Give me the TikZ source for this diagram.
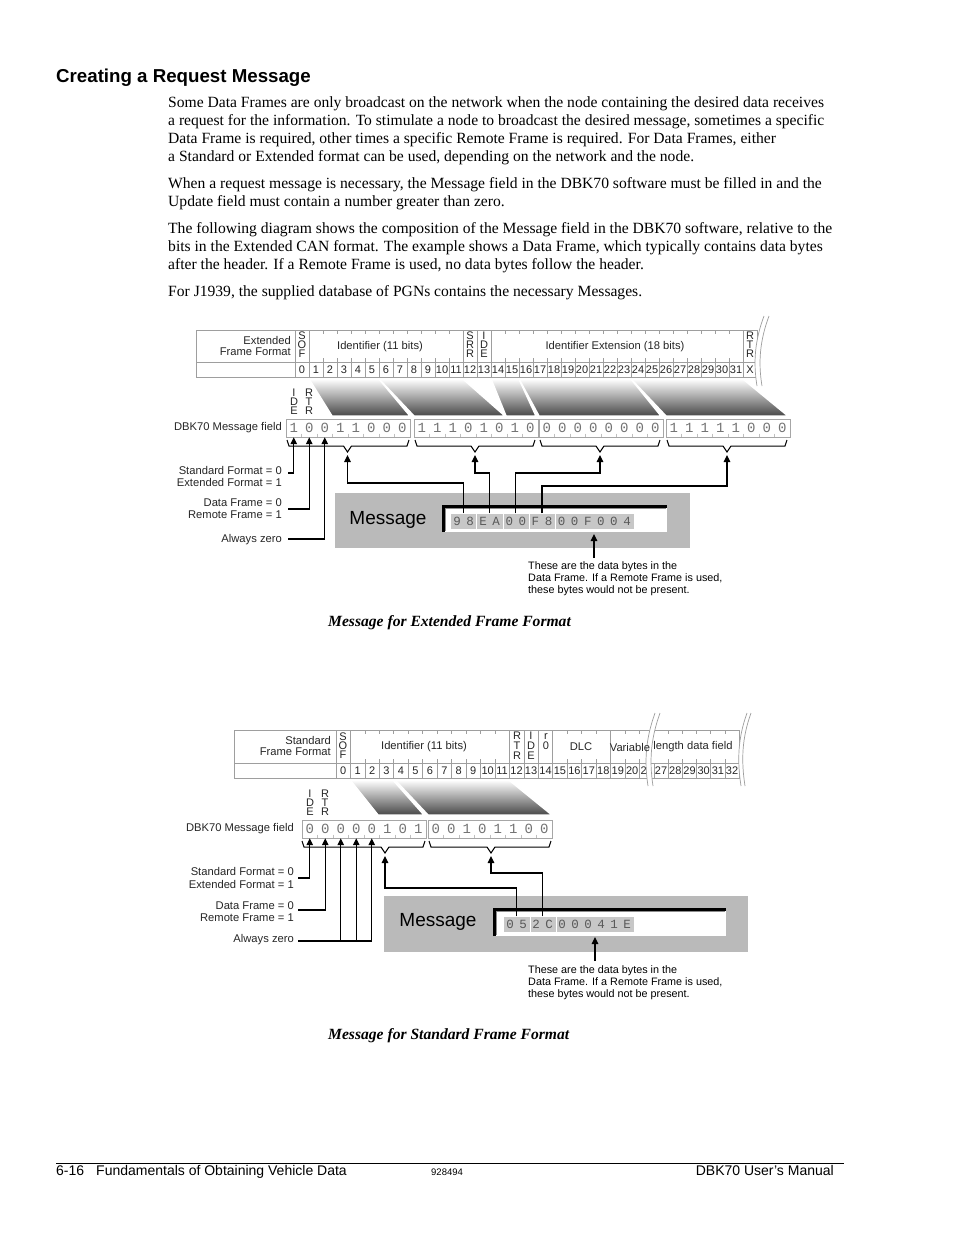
\documentclass[tikz,border=0pt]{standalone}
\usepackage{fontspec}
\setmainfont{Liberation Serif}
\setsansfont{Liberation Sans}
\setmonofont{Liberation Mono}
\usetikzlibrary{arrows.meta,calc}
\newcommand\fieldgrp[4]{%
  \draw[fbox] (#2,#3) rectangle ++(124,18);
  \foreach \d [count=\i] in {#4} {\node[dig] (#1-\i) at ({#2+7.75+15.5*(\i-1)},{#3+9}) {\d};}
  \foreach \i in {1,...,7} {\draw[fbox,draw=black!25] ({#2+15.5*\i},{#3+14.5}) -- ({#2+15.5*\i},{#3+18});}
}
\newcommand\mybrace[4]{\draw[brc] (#1,#4) -- ({#1+2},{#4+6}) -- ({#3-4},{#4+6}) -- (#3,{#4+12}) -- ({#3+4},{#4+6}) -- ({#2-2},{#4+6}) -- (#2,#4);}
\begin{document}
\begin{tikzpicture}[x=1pt,y=-1pt,
  body/.style={anchor=base west,inner sep=0,font=\fontsize{15.6}{18}\selectfont},
  capt/.style={anchor=base west,inner sep=0,font=\bfseries\itshape\fontsize{15.6}{18}\selectfont},
  lbl/.style={inner sep=0,font=\sffamily\fontsize{11.2}{12}\selectfont,text=black!85},
  num/.style={inner sep=0,font=\sffamily\fontsize{11}{12}\selectfont,text=black!85},
  vl/.style={inner sep=0,align=center,font=\sffamily\fontsize{11}{9}\selectfont,text=black!85},
  tbl/.style={draw=black!38,line width=0.7pt},
  fbox/.style={draw=black!35,line width=0.7pt},
  dig/.style={inner sep=0,minimum width=15.5pt,minimum height=18pt,font=\ttfamily\fontsize{14}{14}\selectfont,text=black!55},
  mch/.style={inner sep=0,minimum width=13pt,minimum height=15pt,font=\ttfamily\fontsize{12.5}{13}\selectfont,text=black!65},
  hl/.style={fill=black!22},
  conn/.style={draw=black,line width=1.2pt},
  arr/.style={conn,-{Triangle[length=7pt,width=6.5pt]}},
  brc/.style={draw=black,line width=1pt},
  shd/.style={top color=white,bottom color=black!72,draw=white,line width=1.5pt},
  msgbg/.style={fill=black!27},
  big/.style={inner sep=0,font=\sffamily\fontsize{19}{20}\selectfont},
  note/.style={anchor=base west,inner sep=0,font=\sffamily\fontsize{10.8}{12}\selectfont},
  foot/.style={anchor=base west,inner sep=0,font=\sffamily\fontsize{14}{16}\selectfont}]
\path[use as bounding box,fill=white] (0,0) rectangle (954,1235);

% ---------- heading and body text ----------
\node[anchor=base west,inner sep=0,font=\sffamily\bfseries\fontsize{18.7}{20}\selectfont] (title) at (56,82.5) {Creating a Request Message};
\node[body] (p1a) at (168,107) {Some Data Frames are only broadcast on the network when the node containing the desired data receives};
\node[body] (p1b) at (168,125) {a request for the information. To stimulate a node to broadcast the desired message, sometimes a specific};
\node[body] (p1c) at (168,143) {Data Frame is required, other times a specific Remote Frame is required. For Data Frames, either};
\node[body] (p1d) at (168,161) {a Standard or Extended format can be used, depending on the network and the node.};
\node[body] (p2a) at (168,188) {When a request message is necessary, the Message field in the DBK70 software must be filled in and the};
\node[body] (p2b) at (168,206) {Update field must contain a number greater than zero.};
\node[body] (p3a) at (168,233) {The following diagram shows the composition of the Message field in the DBK70 software, relative to the};
\node[body] (p3b) at (168,251) {bits in the Extended CAN format. The example shows a Data Frame, which typically contains data bytes};
\node[body] (p3c) at (168,269) {after the header. If a Remote Frame is used, no data bytes follow the header.};
\node[body] (p4a) at (168,296) {For J1939, the supplied database of PGNs contains the necessary Messages.};

% ================= EXTENDED FRAME =================
\shade[shd] (309,379) -- (379,379) -- (410,416) -- (332,416) -- cycle;
\shade[shd] (379,379) -- (463,379) -- (505,416) -- (414,416) -- cycle;
\shade[shd] (491,379) -- (519,379) -- (536,416) -- (506,416) -- cycle;
\shade[shd] (519,379) -- (631,379) -- (661,416) -- (539,416) -- cycle;
\shade[shd] (631,379) -- (743,379) -- (788,416) -- (666,416) -- cycle;
\draw[tbl] (196,330) rectangle (757,377);
\draw[tbl] (196,362) -- (757,362);
\foreach \k in {0,1,12,13,14,32} {\draw[tbl] ({295+14*\k},330) -- ({295+14*\k},362);}
\foreach \k in {0,...,32} {\draw[tbl] ({295+14*\k},362) -- ({295+14*\k},377);}
\foreach \k in {2,...,11,15,16,...,31} {
  \draw[tbl] ({295+14*\k},330) -- ({295+14*\k},334);
  \draw[tbl] ({295+14*\k},358) -- ({295+14*\k},362);}
\foreach \k in {0,...,31} {\node[num] (e\k) at ({302+14*\k},370) {\k};}
\node[num] (eX) at (750,370) {X};
\node[lbl,anchor=east] (ext1) at (291,340) {Extended};
\node[lbl,anchor=east] (ext2) at (291,352) {Frame Format};
\node[vl] (esof) at (302,345) {S\\O\\F};
\node[vl] (esrr) at (470,345) {S\\R\\R};
\node[vl] (eide) at (484,345) {I\\D\\E};
\node[vl] (ertr) at (750,345) {R\\T\\R};
\node[lbl] (eid) at (380,347) {Identifier (11 bits)};
\node[lbl] (eidx) at (615,347) {Identifier Extension (18 bits)};
\fill[white] (764,316) .. controls (755,340) and (753,362) .. (757,386) -- (762,386) .. controls (758,362) and (760,340) .. (769,316) -- cycle;
\draw[tbl] (764,316) .. controls (755,340) and (753,362) .. (757,386);
\draw[tbl] (769,316) .. controls (760,340) and (758,362) .. (762,386);

\node[lbl,anchor=east] (emf) at (282,428) {DBK70 Message field};
\node[vl] (fide) at (294,402) {I\\D\\E};
\node[vl] (frtr) at (309,402) {R\\T\\R};
\fieldgrp{ga}{286}{419}{1,0,0,1,1,0,0,0}
\fieldgrp{gb}{414}{419}{1,1,1,0,1,0,1,0}
\fieldgrp{gc}{539}{419}{0,0,0,0,0,0,0,0}
\fieldgrp{gd}{666}{419}{1,1,1,1,1,0,0,0}
\mybrace{287}{409}{347.5}{440}
\mybrace{415}{535}{475}{440}
\mybrace{540}{660}{600}{440}
\mybrace{667}{787}{727}{440}
\coordinate (ta) at (347.5,455);
\coordinate (tb) at (475,455);
\coordinate (tc) at (600,455);
\coordinate (td) at (727,455);
\node[lbl,anchor=east] (l1a) at (282,470) {Standard Format = 0};
\node[lbl,anchor=east] (l1b) at (282,482) {Extended Format = 1};
\node[lbl,anchor=east] (l2a) at (282,503) {Data Frame = 0};
\node[lbl,anchor=east] (l2b) at (282,515) {Remote Frame = 1};
\node[lbl,anchor=east] (l3) at (282,540) {Always zero};
\draw[arr] (288,473) -| (ga-1.south);
\draw[arr] (288,509) -| (ga-2.south);
\draw[arr] (288,539) -| (ga-3.south);

\fill[msgbg] (335,493) rectangle (690,548);
\node[big] (emsg) at (388,520) {Message};
\fill[white] (442,505) rectangle (667,532);
\draw[line width=2.6pt] (443.3,532) -- (443.3,506.3) -- (667,506.3);
\draw[black!45,line width=0.6pt] (445.5,531) -- (445.5,508.5) -- (666,508.5);
\fill[hl] (450.5,513.5) rectangle (476,528.5);
\fill[hl] (477,513.5) rectangle (502.5,528.5);
\fill[hl] (503.5,513.5) rectangle (528.8,528.5);
\fill[hl] (529.8,513.5) rectangle (555,528.5);
\fill[hl] (556,513.5) rectangle (633.5,528.5);
\foreach \c [count=\i from 0] in {9,8,E,A,0,0,F,8,0,0,F,0,0,4} {\node[mch] (ma-\i) at ({457+13.08*\i},521) {\c};}
\draw[arr] ($(ma-0.north)!.5!(ma-1.north)$) |- (347.5,483) -- (ta);
\draw[arr] ($(ma-2.north)!.5!(ma-3.north)$) |- (475,473) -- (tb);
\draw[arr] ($(ma-4.north)!.5!(ma-5.north)$) |- (600,473) -- (tc);
\draw[arr] ($(ma-6.north)!.5!(ma-7.north)$) |- (727,486) -- (td);
\coordinate (na) at (594,558);
\draw[arr] (na) -- (594,534);
\node[note] (n1a) at (528,569) {These are the data bytes in the};
\node[note] (n1b) at (528,581) {Data Frame. If a Remote Frame is used,};
\node[note] (n1c) at (528,593) {these bytes would not be present.};
\node[capt] (cap1) at (328,626) {Message for Extended Frame Format};

% ================= STANDARD FRAME =================
\shade[shd] (350,780) -- (393,780) -- (424,815) -- (378,815) -- cycle;
\shade[shd] (395,780) -- (509,780) -- (552,815) -- (428,815) -- cycle;
\draw[tbl] (234,730) rectangle (739,778);
\draw[tbl] (234,763) -- (739,763);
\foreach \k in {0,1,12,13,14,15,19} {\draw[tbl] ({336+14.45*\k},730) -- ({336+14.45*\k},763);}
\foreach \k in {0,...,21} {\draw[tbl] ({336+14.45*\k},763) -- ({336+14.45*\k},778);}
\foreach \j in {27,...,32} {\draw[tbl] ({654+14.2*(\j-27)},763) -- ({654+14.2*(\j-27)},778);}
\foreach \k in {2,...,11,16,17,18,20,21} {
  \draw[tbl] ({336+14.45*\k},730) -- ({336+14.45*\k},734);
  \draw[tbl] ({336+14.45*\k},759) -- ({336+14.45*\k},763);}
\foreach \j in {28,...,32} {
  \draw[tbl] ({654+14.2*(\j-27)},730) -- ({654+14.2*(\j-27)},734);
  \draw[tbl] ({654+14.2*(\j-27)},759) -- ({654+14.2*(\j-27)},763);}
\foreach \k in {0,...,21} {\node[num] (s\k) at ({343.2+14.45*\k},771) {\k};}
\foreach \j in {27,...,32} {\node[num] (s\j) at ({661.1+14.2*(\j-27)},771) {\j};}
\node[lbl,anchor=east] (std1) at (331,740) {Standard};
\node[lbl,anchor=east] (std2) at (331,752) {Frame Format};
\node[vl] (ssof) at (343,746) {S\\O\\F};
\node[lbl] (sid) at (424,747) {Identifier (11 bits)};
\node[vl,font=\sffamily\fontsize{11}{10}\selectfont] (srtr) at (517,746) {R\\T\\R};
\node[vl,font=\sffamily\fontsize{11}{10}\selectfont] (side) at (531,746) {I\\D\\E};
\node[vl,font=\sffamily\fontsize{11}{10}\selectfont] (sr0) at (546,742) {r\\0};
\node[lbl] (sdlc) at (581,747) {DLC};
\fill[white] (655,713) .. controls (646,738) and (644,760) .. (648,786) -- (653,786) .. controls (649,760) and (651,738) .. (660,713) -- cycle;
\draw[tbl] (655,713) .. controls (646,738) and (644,760) .. (648,786);
\draw[tbl] (660,713) .. controls (651,738) and (649,760) .. (653,786);
\fill[white] (747,713) .. controls (738,738) and (737,760) .. (741,786) -- (745,786) .. controls (741,760) and (742,738) .. (751,713) -- cycle;
\draw[tbl] (747,713) .. controls (738,738) and (737,760) .. (741,786);
\draw[tbl] (751,713) .. controls (742,738) and (741,760) .. (745,786);
\node[lbl] (svar) at (630,747) {Variable};
\node[lbl] (sldf) at (693,747) {length data field};

\node[lbl,anchor=east] (smf) at (294,829) {DBK70 Message field};
\node[vl] (fide2) at (310,803) {I\\D\\E};
\node[vl] (frtr2) at (325,803) {R\\T\\R};
\fieldgrp{sa}{302}{820}{0,0,0,0,0,1,0,1}
\fieldgrp{sb}{428}{820}{0,0,1,0,1,1,0,0}
\mybrace{302}{425}{385}{841}
\mybrace{429}{551}{491}{841}
\coordinate (tsa) at (385,856);
\coordinate (tsb) at (491,856);
\node[lbl,anchor=east] (m1a) at (294,871) {Standard Format = 0};
\node[lbl,anchor=east] (m1b) at (294,884) {Extended Format = 1};
\node[lbl,anchor=east] (m2a) at (294,906) {Data Frame = 0};
\node[lbl,anchor=east] (m2b) at (294,918) {Remote Frame = 1};
\node[lbl,anchor=east] (m3) at (294,940) {Always zero};
\draw[arr] (298,878) -| (sa-1.south);
\draw[arr] (298,910) -| (sa-2.south);
\draw[conn] (298,941) -- (sa-5.south |- 0,941);
\draw[arr] (sa-3.south |- 0,941) -- (sa-3.south);
\draw[arr] (sa-4.south |- 0,941) -- (sa-4.south);
\draw[arr] (sa-5.south |- 0,941) -- (sa-5.south);

\fill[msgbg] (384,896) rectangle (748,952);
\node[big] (smsg) at (438,922) {Message};
\fill[white] (493,908) rectangle (726,936);
\draw[line width=2.6pt] (494.3,936) -- (494.3,909.3) -- (726,909.3);
\draw[black!45,line width=0.6pt] (496.5,935) -- (496.5,911.5) -- (725,911.5);
\fill[hl] (503.5,916.5) rectangle (529.5,931.5);
\fill[hl] (530.5,916.5) rectangle (555.5,931.5);
\fill[hl] (556.5,916.5) rectangle (633.5,931.5);
\foreach \c [count=\i from 0] in {0,5,2,C,0,0,0,4,1,E} {\node[mch] (mb-\i) at ({510+13*\i},924) {\c};}
\draw[arr] ($(mb-0.north)!.5!(mb-1.north)$) |- (385,888) -- (tsa);
\draw[arr] ($(mb-2.north)!.5!(mb-3.north)$) |- (491,873) -- (tsb);
\coordinate (nb) at (595,961);
\draw[arr] (nb) -- (595,937);
\node[note] (n2a) at (528,973) {These are the data bytes in the};
\node[note] (n2b) at (528,985) {Data Frame. If a Remote Frame is used,};
\node[note] (n2c) at (528,997) {these bytes would not be present.};
\node[capt] (cap2) at (328,1039) {Message for Standard Frame Format};

% ---------- footer ----------
\draw[line width=0.8pt] (56,1163) -- (844,1163);
\node[foot] (f1) at (56,1175) {6-16};
\node[foot] (f2) at (96,1175) {Fundamentals of Obtaining Vehicle Data};
\node[anchor=base west,inner sep=0,font=\sffamily\fontsize{9.5}{11}\selectfont] (f3) at (431,1175) {928494};
\node[foot,anchor=base east] (f4) at (834,1175) {DBK70 User's Manual};
\end{tikzpicture}
\end{document}
